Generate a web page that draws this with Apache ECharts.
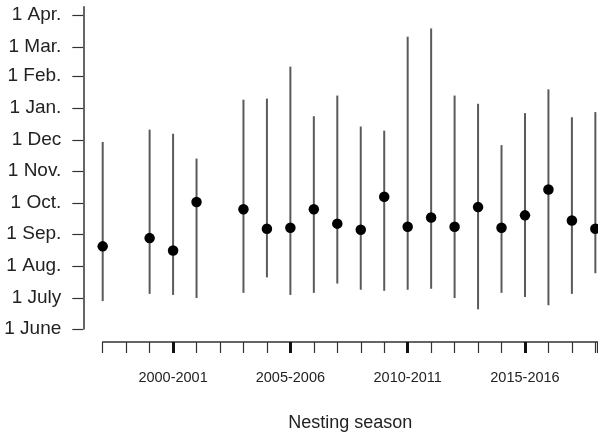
<!DOCTYPE html>
<html>
<head>
<meta charset="utf-8">
<script src="https://cdn.jsdelivr.net/npm/echarts@6/dist/echarts.min.js"></script>
<style>
  html, body { margin: 0; padding: 0; background: #fff; }
  #chart { width: 598px; height: 432px; }
</style>
</head>
<body>
<div id="chart"></div>
<script>
// seasons along the x axis (one tick each)
const seasons = ['1997-1998', '1998-1999', '1999-2000', '2000-2001', '2001-2002', '2002-2003',
  '2003-2004', '2004-2005', '2005-2006', '2006-2007', '2007-2008', '2008-2009', '2009-2010',
  '2010-2011', '2011-2012', '2012-2013', '2013-2014', '2014-2015', '2015-2016', '2016-2017',
  '2017-2018', '2018-2019']
const labelledSeasons = ['2000-2001', '2005-2006', '2010-2011', '2015-2016']

// y axis: days counted from 1 June
const monthLabels = ['1 June', '1 July', '1 Aug.', '1 Sep.', '1 Oct.', '1 Nov.', '1 Dec', '1 Jan.', '1 Feb.', '1 Mar.', '1 Apr.']
const monthDays = [0, 30, 61, 92, 122, 153, 183, 214, 245, 273, 304]

// nesting data per season (days from 1 June)
const dataSeasons = ['1997-1998', '1999-2000', '2000-2001', '2001-2002', '2003-2004', '2004-2005',
  '2005-2006', '2006-2007', '2007-2008', '2008-2009', '2009-2010', '2010-2011', '2011-2012',
  '2012-2013', '2013-2014', '2014-2015', '2015-2016', '2016-2017', '2017-2018', '2018-2019']
const meanDay = [80, 88, 76, 123, 116, 97, 98, 116, 102, 96, 128, 99, 108, 99, 118, 98, 110, 135, 105, 97]
const firstDay = [27, 34, 33, 30, 35, 50, 33, 35, 44, 38, 37, 38, 39, 30, 19, 35, 31, 23, 34, 54]
const lastDay = [181, 193, 189, 165, 222, 223, 254, 206, 226, 196, 192, 283, 291, 226, 218, 178, 209, 232, 205, 210]

const xIndex = dataSeasons.map(s => seasons.indexOf(s))
const rangeData = xIndex.map((x, i) => [x, firstDay[i], lastDay[i]])
const pointData = xIndex.map((x, i) => [x, meanDay[i]])

const font = '"Liberation Sans", Arial, Helvetica, sans-serif'
const axisColor = '#333'

const chart = echarts.init(document.getElementById('chart'))

const option = {
  animation: false,
  grid: {
    left: 102.7,
    right: 0.3,
    top: 6.7,
    bottom: 103,
    containLabel: false,
    outerBoundsMode: 'none'
  },
  xAxis: [
    {
      type: 'value',
      min: 0,
      max: 21.1,
      interval: 1,
      offset: 13,
      axisLine: { onZero: false, lineStyle: { color: axisColor, width: 1.5 } },
      axisTick: { length: 11, lineStyle: { color: axisColor, width: 1.2 } },
      axisLabel: { show: false },
      splitLine: { show: false },
      name: 'Nesting season',
      nameLocation: 'middle',
      nameGap: 72,
      nameTextStyle: { fontFamily: font, fontSize: 18, color: '#222' }
    },
    {
      type: 'value',
      min: 0,
      max: 21.1,
      offset: 13,
      position: 'bottom',
      axisLine: { show: false, onZero: false },
      axisTick: {
        length: 11,
        customValues: labelledSeasons.map(s => seasons.indexOf(s)),
        lineStyle: { color: '#111', width: 3 }
      },
      axisLabel: {
        customValues: labelledSeasons.map(s => seasons.indexOf(s)),
        formatter: v => seasons[v],
        margin: 28,
        fontFamily: font,
        fontSize: 14.5,
        color: '#222'
      },
      splitLine: { show: false }
    }
  ],
  yAxis: {
    type: 'value',
    min: 0,
    max: 312,
    offset: 19.4,
    axisLine: { show: true, onZero: false, lineStyle: { color: axisColor, width: 1.5 } },
    axisTick: {
      show: true,
      length: 11,
      customValues: monthDays,
      lineStyle: { color: axisColor, width: 1.2 }
    },
    axisLabel: {
      customValues: monthDays,
      formatter: v => monthLabels[monthDays.indexOf(v)],
      margin: 22,
      fontFamily: font,
      fontSize: 19,
      color: '#222'
    },
    splitLine: { show: false }
  },
  series: [
    {
      type: 'custom',
      xAxisIndex: 0,
      data: rangeData,
      renderItem: (params, api) => {
        const lo = api.coord([api.value(0), api.value(1)])
        const hi = api.coord([api.value(0), api.value(2)])
        return {
          type: 'line',
          shape: { x1: lo[0], y1: lo[1], x2: hi[0], y2: hi[1] },
          style: { stroke: '#5a5a5a', lineWidth: 2 }
        }
      }
    },
    {
      type: 'scatter',
      xAxisIndex: 0,
      data: pointData,
      symbol: 'circle',
      symbolSize: 10.5,
      itemStyle: { color: '#000', opacity: 1 }
    }
  ]
}

chart.setOption(option)
</script>
</body>
</html>
